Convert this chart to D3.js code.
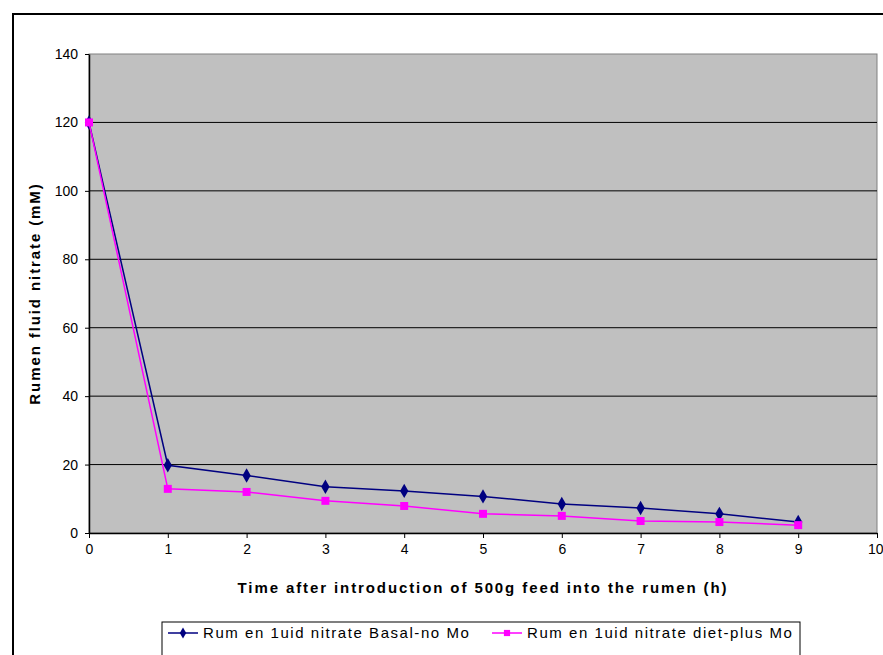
<!DOCTYPE html>
<html>
<head>
<meta charset="utf-8">
<script src="https://cdn.jsdelivr.net/npm/d3@7"></script>
<style>
  body { margin: 0; background: #fff; }
  text { font-family: Arial, "Liberation Sans", sans-serif; }
</style>
</head>
<body>
<div id="chart"></div>
<script>
const hours = [0, 1, 2, 3, 4, 5, 6, 7, 8, 9];
const basalNoMo = [120, 19.8, 16.8, 13.5, 12.3, 10.7, 8.5, 7.3, 5.6, 3.2];
const dietPlusMo = [120, 12.9, 12.0, 9.4, 7.9, 5.6, 5.0, 3.5, 3.2, 2.3];
const yTicks = [0, 20, 40, 60, 80, 100, 120, 140];
const xTicks = [0, 1, 2, 3, 4, 5, 6, 7, 8, 9, 10];
const seriesNames = ["Rum en 1uid nitrate Basal-no Mo", "Rum en 1uid nitrate diet-plus Mo"];

const width = 883, height = 655;
const plot = {left: 89, top: 54, right: 877, bottom: 533};

const svg = d3.select("#chart").append("svg")
    .attr("width", width)
    .attr("height", height);

// outer frame
svg.append("rect")
    .attr("x", 13).attr("y", 14)
    .attr("width", 880).attr("height", 660)
    .attr("fill", "#fff")
    .attr("stroke", "#000")
    .attr("stroke-width", 2);

const x = d3.scaleLinear().domain([0, 10]).range([plot.left, plot.right]);
const y = d3.scaleLinear().domain([0, 140]).range([plot.bottom, plot.top]);

// plot background
svg.append("rect")
    .attr("x", plot.left).attr("y", plot.top)
    .attr("width", plot.right - plot.left)
    .attr("height", plot.bottom - plot.top)
    .attr("fill", "#c0c0c0")
    .attr("stroke", "#808080")
    .attr("stroke-width", 1);

// gridlines
svg.append("g")
    .selectAll("line")
    .data(yTicks.filter(d => d > 0 && d < 140))
    .enter().append("line")
    .attr("x1", plot.left).attr("x2", plot.right)
    .attr("y1", d => y(d)).attr("y2", d => y(d))
    .attr("stroke", "#000")
    .attr("stroke-width", 1);

// axes
const xAxis = d3.axisBottom(x).tickValues(xTicks).tickSize(5).tickSizeOuter(0).tickPadding(6);
const yAxis = d3.axisLeft(y).tickValues(yTicks).tickSize(4).tickSizeOuter(0).tickPadding(7);

const gx = svg.append("g")
    .attr("transform", "translate(0," + plot.bottom + ")")
    .call(xAxis);
const gy = svg.append("g")
    .attr("transform", "translate(" + plot.left + ",0)")
    .call(yAxis);

[gx, gy].forEach(g => {
    g.select(".domain").attr("stroke", "#000").attr("stroke-width", 1.5);
    g.selectAll(".tick line").attr("stroke", "#000");
    g.selectAll(".tick text")
        .attr("fill", "#000")
        .style("font-size", "14px")
        .style("font-family", "Arial, 'Liberation Sans', sans-serif");
});
// last x label sits right at the frame edge
gx.selectAll(".tick text").filter(d => d === 10).attr("text-anchor", "end").attr("dx", "6px");

// axis titles
svg.append("text")
    .attr("x", (plot.left + plot.right) / 2)
    .attr("y", 593)
    .attr("text-anchor", "middle")
    .style("font-size", "15px")
    .style("font-weight", "bold")
    .style("letter-spacing", "1.9px")
    .text("Time after introduction of 500g feed into the rumen (h)");

svg.append("text")
    .attr("transform", "translate(40," + (plot.top + plot.bottom) / 2 + ") rotate(-90)")
    .attr("text-anchor", "middle")
    .style("font-size", "15px")
    .style("font-weight", "bold")
    .style("letter-spacing", "1.9px")
    .text("Rumen fluid nitrate (mM)");

// series
const series = [
    {name: seriesNames[0], values: basalNoMo, color: "#000080", symbol: d3.symbolDiamond, size: 60},
    {name: seriesNames[1], values: dietPlusMo, color: "#ff00ff", symbol: d3.symbolSquare, size: 64}
];

const line = d3.line()
    .x((d, i) => x(hours[i]))
    .y(d => y(d));

series.forEach(s => {
    svg.append("path")
        .attr("d", line(s.values))
        .attr("fill", "none")
        .attr("stroke", s.color)
        .attr("stroke-width", 1.5);
    svg.append("g")
        .selectAll("path")
        .data(s.values)
        .enter().append("path")
        .attr("transform", (d, i) => "translate(" + x(hours[i]) + "," + y(d) + ")")
        .attr("d", d3.symbol().type(s.symbol).size(s.size))
        .attr("fill", s.color);
});

// legend
const legend = svg.append("g").attr("transform", "translate(162,622)");
legend.append("rect")
    .attr("width", 638).attr("height", 40)
    .attr("fill", "#fff")
    .attr("stroke", "#000")
    .attr("stroke-width", 1);

const legendX = [6, 330];
series.forEach((s, i) => {
    const g = legend.append("g").attr("transform", "translate(" + legendX[i] + ",11)");
    g.append("line")
        .attr("x1", 0).attr("x2", 30)
        .attr("stroke", s.color).attr("stroke-width", 1.5);
    g.append("path")
        .attr("transform", "translate(15,0)")
        .attr("d", d3.symbol().type(s.symbol).size(s.size * 0.6))
        .attr("fill", s.color);
    g.append("text")
        .attr("x", 35).attr("y", 5)
        .style("font-size", "15px")
        .style("letter-spacing", "1.55px")
        .text(s.name);
});
</script>
</body>
</html>
